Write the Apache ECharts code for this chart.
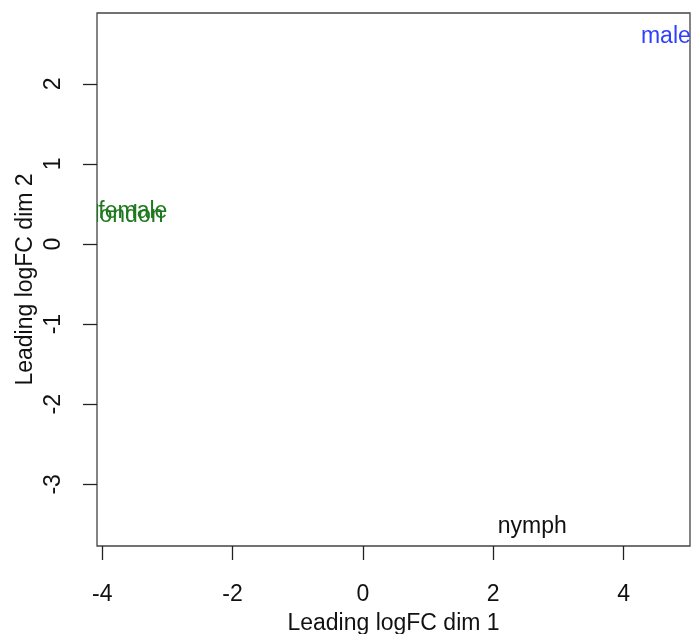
<!DOCTYPE html>
<html>
<head>
<meta charset="utf-8">
<script src="https://cdn.jsdelivr.net/npm/echarts@6/dist/echarts.min.js"></script>
<style>
  html, body { margin: 0; padding: 0; background: #fff; }
  #mds { width: 691px; height: 634px; }
</style>
</head>
<body>
<div id="mds"></div>
<script>
  // MDS plot, sample labels placed at their coordinates
  var sampleLabels = ['male', 'female', 'london', 'nymph']
  var dim1 = [4.65, -3.53, -3.59, 2.6]
  var dim2 = [2.59, 0.41, 0.36, -3.53]
  var labelColors = ['#2f3fff', '#1f7a1f', '#1f7a1f', '#111111']
  var xTicks = [-4, -2, 0, 2, 4]
  var yTicks = [-3, -2, -1, 0, 1, 2]

  var font = 'Liberation Sans, Arial, Helvetica, sans-serif'
  var chart = echarts.init(document.getElementById('mds'))

  var points = dim1.map(function (x, i) {
    return [x, dim2[i]]
  })

  chart.setOption({
    animation: false,
    grid: {
      left: 97,
      right: 1,
      top: 13,
      bottom: 88,
      outerBoundsMode: 'none',
      show: true,
      borderColor: '#444',
      borderWidth: 1.3,
      backgroundColor: 'transparent'
    },
    xAxis: {
      type: 'value',
      min: -4.08,
      max: 5.02,
      name: 'Leading logFC dim 1',
      nameLocation: 'middle',
      nameGap: 66,
      nameMoveOverlap: false,
      nameTextStyle: { fontSize: 23, color: '#111', fontFamily: font },
      axisLine: { show: false, onZero: false },
      splitLine: { show: false },
      axisTick: {
        show: true,
        length: 14,
        customValues: xTicks,
        lineStyle: { color: '#222', width: 1.3 }
      },
      axisLabel: {
        customValues: xTicks,
        margin: 37,
        fontSize: 23,
        color: '#111',
        fontFamily: font
      }
    },
    yAxis: {
      type: 'value',
      min: -3.77,
      max: 2.884,
      name: 'Leading logFC dim 2',
      nameLocation: 'middle',
      nameGap: 60,
      nameMoveOverlap: false,
      nameTextStyle: { fontSize: 23, color: '#111', fontFamily: font },
      axisLine: { show: false, onZero: false },
      splitLine: { show: false },
      axisTick: {
        show: true,
        length: 14,
        customValues: yTicks,
        lineStyle: { color: '#222', width: 1.3 }
      },
      axisLabel: {
        customValues: yTicks,
        rotate: 90,
        margin: 32,
        fontSize: 23,
        color: '#111',
        fontFamily: font
      }
    },
    series: [{
      type: 'custom',
      clip: true,
      data: points,
      renderItem: function (params, api) {
        var p = api.coord([api.value(0), api.value(1)])
        return {
          type: 'text',
          x: p[0],
          y: p[1],
          style: {
            text: sampleLabels[params.dataIndex],
            fill: labelColors[params.dataIndex],
            font: '23px ' + font,
            align: 'center',
            verticalAlign: 'middle'
          }
        }
      }
    }]
  })
</script>
</body>
</html>
